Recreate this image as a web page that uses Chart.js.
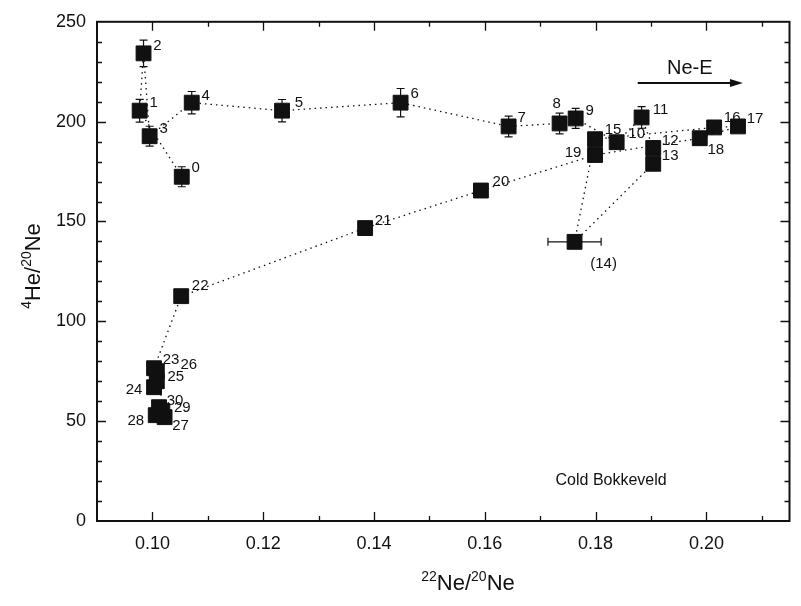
<!DOCTYPE html>
<html>
<head>
<meta charset="utf-8">
<script src="https://cdn.jsdelivr.net/npm/chart.js@4.4.1/dist/chart.umd.min.js"></script>
<style>
  html, body { margin: 0; padding: 0; background: #fff; }
  canvas { display: block; }
</style>
</head>
<body>
<canvas id="chart" width="801" height="606"></canvas>
<script>
// sample steps, in measurement order
const pointLabels = ['0','1','2','3','4','5','6','7','8','9','10','11','12','13','(14)','15',
    '16','17','18','19','20','21','22','23','24','25','26','27','28','29','30'];
const ne22 = [0.1053, 0.0977, 0.0984, 0.0995, 0.1071, 0.1234, 0.1448, 0.1643, 0.1735, 0.1764,
    0.1838, 0.1883, 0.1904, 0.1904, 0.1762, 0.1799, 0.2014, 0.2057, 0.1988, 0.1799,
    0.1593, 0.1384, 0.1052, 0.1003, 0.1003, 0.1008, 0.1008, 0.1022, 0.1006, 0.1018, 0.1012];
const he4 = [172.4, 205.5, 234.2, 192.7, 209.5, 205.5, 209.5, 197.6, 199.1, 201.6,
    189.7, 202.1, 186.8, 178.9, 139.8, 191.2, 197.1, 197.6, 191.7, 183.3,
    165.5, 146.7, 112.6, 76.5, 67, 70, 75, 52, 53, 55, 57];
const he4Err = [5, 5.7, 6.6, 5, 5.6, 5.6, 7.1, 5.2, 5.2, 5, 3, 5.4, 3, 3, 2, 3,
    3, 3, 3, 3, 2, 2, 2, 2, 2, 2, 2, 2, 2, 2, 2];
const ne22Err = [0, 0, 0, 0, 0, 0, 0, 0, 0, 0, 0, 0, 0, 0, 0.0048, 0,
    0, 0, 0, 0, 0, 0, 0, 0, 0, 0, 0, 0, 0, 0, 0];
const xTicks = [0.10, 0.12, 0.14, 0.16, 0.18, 0.20];
const yTicks = [0, 50, 100, 150, 200, 250];

const ink = '#111';
const fontFam = '"Liberation Sans", Arial, Helvetica, sans-serif';

// where each number sits next to its square (px from centre)
const labelShift = {
    0: [14, -9], 1: [14, -8], 2: [14, -7], 3: [14, -7], 4: [14, -7], 5: [17, -8],
    6: [14, -9], 7: [13, -9], 8: [-3, -20], 9: [14, -8], 10: [20, -8], 11: [19, -8],
    12: [17, -7], 13: [17, -8], 14: [29, 22], 15: [18, -9], 16: [18, -10], 17: [17, -8],
    18: [16, 12], 19: [-22, -2], 20: [20, -9], 21: [18, -7], 22: [19, -10], 23: [17, -8],
    24: [-20, 3], 25: [19, -4], 26: [32, -6], 27: [16, 9], 28: [-20, 6], 29: [20, -3], 30: [16, -6]
};

function drawParts(ctx, parts, x, y) {
    // parts: [text, isSup]
    let total = 0;
    parts.forEach(p => {
        ctx.font = p[1] ? '14px ' + fontFam : '22px ' + fontFam;
        total += ctx.measureText(p[0]).width;
    });
    let cx = x - total / 2;
    ctx.textAlign = 'left';
    ctx.textBaseline = 'alphabetic';
    parts.forEach(p => {
        ctx.font = p[1] ? '14px ' + fontFam : '22px ' + fontFam;
        ctx.fillText(p[0], cx, p[1] ? y - 9 : y);
        cx += ctx.measureText(p[0]).width;
    });
}

const extras = {
    id: 'extras',
    afterDatasetsDraw(chart) {
        const { ctx, scales: { x, y } } = chart;
        ctx.save();
        ctx.strokeStyle = ink;
        ctx.lineWidth = 1.2;
        for (let i = 0; i < ne22.length; i++) {
            const px = x.getPixelForValue(ne22[i]);
            const py = y.getPixelForValue(he4[i]);
            if (he4Err[i] > 0) {
                const t = y.getPixelForValue(he4[i] + he4Err[i]);
                const b = y.getPixelForValue(he4[i] - he4Err[i]);
                ctx.beginPath();
                ctx.moveTo(px, t); ctx.lineTo(px, b);
                ctx.moveTo(px - 4, t); ctx.lineTo(px + 4, t);
                ctx.moveTo(px - 4, b); ctx.lineTo(px + 4, b);
                ctx.stroke();
            }
            if (ne22Err[i] > 0) {
                const l = x.getPixelForValue(ne22[i] - ne22Err[i]);
                const r = x.getPixelForValue(ne22[i] + ne22Err[i]);
                ctx.beginPath();
                ctx.moveTo(l, py); ctx.lineTo(r, py);
                ctx.moveTo(l, py - 4); ctx.lineTo(l, py + 4);
                ctx.moveTo(r, py - 4); ctx.lineTo(r, py + 4);
                ctx.stroke();
            }
        }
        // point numbers
        ctx.fillStyle = ink;
        ctx.font = '15px ' + fontFam;
        ctx.textAlign = 'center';
        ctx.textBaseline = 'middle';
        pointLabels.forEach((lab, i) => {
            const s = labelShift[i] || [14, -8];
            ctx.fillText(lab, x.getPixelForValue(ne22[i]) + s[0], y.getPixelForValue(he4[i]) + s[1]);
        });
        ctx.restore();
    },
    afterDraw(chart) {
        const { ctx, chartArea: a, scales: { x, y } } = chart;
        ctx.save();
        ctx.strokeStyle = ink;
        ctx.fillStyle = ink;
        ctx.lineWidth = 2;
        ctx.strokeRect(a.left, a.top, a.right - a.left, a.bottom - a.top);

        // inward ticks on all four sides
        ctx.lineWidth = 1.3;
        ctx.beginPath();
        for (let k = 10; k <= 21; k++) {
            const px = Math.round(x.getPixelForValue(k / 100)) + 0.5;
            const len = k % 2 === 0 ? 9 : 5;
            ctx.moveTo(px, a.bottom); ctx.lineTo(px, a.bottom - len);
            ctx.moveTo(px, a.top); ctx.lineTo(px, a.top + len);
        }
        for (let k = 1; k < 25; k++) {
            const py = Math.round(y.getPixelForValue(k * 10)) + 0.5;
            const len = k % 5 === 0 ? 9 : 5;
            ctx.moveTo(a.left, py); ctx.lineTo(a.left + len, py);
            ctx.moveTo(a.right, py); ctx.lineTo(a.right - len, py);
        }
        ctx.stroke();

        // Ne-E arrow
        const ax0 = x.getPixelForValue(0.1876), ax1 = x.getPixelForValue(0.2066);
        const ay = y.getPixelForValue(219.4);
        ctx.lineWidth = 2;
        ctx.beginPath();
        ctx.moveTo(ax0, ay); ctx.lineTo(ax1 - 10, ay);
        ctx.stroke();
        ctx.beginPath();
        ctx.moveTo(ax1, ay); ctx.lineTo(ax1 - 13, ay - 4); ctx.lineTo(ax1 - 13, ay + 4);
        ctx.closePath();
        ctx.fill();
        ctx.font = '20px ' + fontFam;
        ctx.textAlign = 'center';
        ctx.textBaseline = 'middle';
        ctx.fillText('Ne-E', x.getPixelForValue(0.197), y.getPixelForValue(226.5));

        ctx.font = '16px ' + fontFam;
        ctx.fillText('Cold Bokkeveld', x.getPixelForValue(0.1828), y.getPixelForValue(20.3));

        // axis titles
        drawParts(ctx, [['22', true], ['Ne/', false], ['20', true], ['Ne', false]], 468, 590);
        ctx.translate(40, 266);
        ctx.rotate(-Math.PI / 2);
        drawParts(ctx, [['4', true], ['He/', false], ['20', true], ['Ne', false]], 0, 0);
        ctx.restore();
    }
};

const ctx = document.getElementById('chart').getContext('2d');
new Chart(ctx, {
    type: 'scatter',
    data: {
        datasets: [{
            data: ne22.map((v, i) => ({ x: v, y: he4[i] })),
            showLine: true,
            borderColor: ink,
            borderWidth: 1.3,
            borderDash: [1.5, 4],
            backgroundColor: ink,
            pointStyle: 'rect',
            pointRadius: 10.5,
            pointBorderWidth: 1,
            pointBorderColor: ink,
            pointBackgroundColor: ink
        }]
    },
    options: {
        responsive: false,
        animation: false,
        layout: { padding: { top: 15, right: 6, left: 0, bottom: 0 } },
        plugins: { legend: { display: false }, tooltip: { enabled: false } },
        scales: {
            x: {
                type: 'linear', min: 0.09, max: 0.215,
                grid: { display: false, drawTicks: false },
                border: { display: false },
                ticks: { color: ink, padding: 12, font: { size: 18, family: fontFam }, callback: v => v.toFixed(2) },
                afterBuildTicks: s => { s.ticks = xTicks.map(v => ({ value: v })); },
                afterFit: s => { s.height = 85; }
            },
            y: {
                type: 'linear', min: 0, max: 250,
                grid: { display: false, drawTicks: false },
                border: { display: false },
                ticks: { color: ink, padding: 11, font: { size: 18, family: fontFam } },
                afterBuildTicks: s => { s.ticks = yTicks.map(v => ({ value: v })); },
                afterFit: s => { s.width = 97; }
            }
        }
    },
    plugins: [extras]
});
</script>
</body>
</html>
